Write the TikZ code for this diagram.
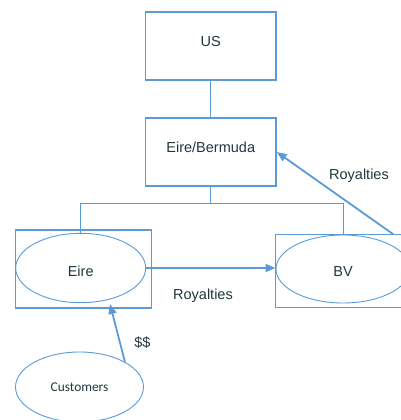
\documentclass[tikz,border=0pt]{standalone}
\usepackage{fontspec}
\setmainfont{Liberation Sans}
\newfontfamily\carlito{Carlito}
\usetikzlibrary{arrows.meta,shapes.geometric}
\definecolor{lineblue}{RGB}{91,155,213}
\definecolor{txt}{RGB}{32,56,60}
\begin{document}
\begin{tikzpicture}[x=1pt,y=-1pt,
  box/.style={draw=lineblue,line width=1.5pt,rectangle,inner sep=0pt},
  oval/.style={draw=lineblue,line width=0.9pt,ellipse,inner sep=0pt},
  lbl/.style={text=txt,font=\fontsize{14.5}{17}\selectfont,inner sep=0pt},
  conn/.style={draw=lineblue,line width=0.9pt},
  arr/.style={draw=lineblue,line width=1.8pt,-{Triangle[length=10pt,width=8pt]}}]
\useasboundingbox (0,0) rectangle (401,420);
\clip (0,0) rectangle (401,420);
% boxes
\node[box,minimum width=130.5pt,minimum height=68pt] (US) at (210.75,46) {};
\node[lbl] (usT) at (210.75,42) {US};
\node[box,minimum width=130.5pt,minimum height=68pt] (EB) at (210.75,152) {};
\node[lbl] (ebT) at (210.75,147) {Eire/Bermuda};
\node[box,minimum width=136pt,minimum height=78pt] (eireB) at (83.3,269.2) {};
\node[oval,minimum width=130pt,minimum height=69.4pt] (eireE) at (80.7,268) {};
\node[lbl] (eireT) at (80.7,271.5) {Eire};
\node[box,minimum width=135pt,minimum height=73pt] (bvB) at (342.8,270.8) {};
\node[oval,minimum width=134pt,minimum height=68pt] (bvE) at (343,269) {};
\node[lbl] (bvT) at (343,271.5) {BV};
\node[oval,minimum width=128pt,minimum height=70pt] (cust) at (79.5,387) {};
\node[text=txt,inner sep=0pt,font=\carlito\fontsize{13.4}{16}\selectfont] (custT) at (79.5,387) {Customers};
% labels
\node[lbl] (roy1) at (203,296) {Royalties};
\node[lbl] (roy2) at (359,176) {Royalties};
\node[lbl] (dol) at (142.5,343) {\$\$};
% connectors
\coordinate (j) at (210.75,203.5);
\draw[conn] (US.south) -- (EB.north);
\draw[conn] (EB.south) -- (j);
\draw[conn] (eireE.north) -- (eireE.north |- j) -- (bvE.north |- j) -- (bvB.north -| bvE.north);
\draw[arr] (eireE.east) -- (eireE.east -| bvE.west);
\coordinate (r1) at (393.3,234.3);
\draw[arr] (r1) -- (EB.east);
\coordinate (tipC) at (110,304);
\draw[arr] (cust.29) -- (tipC);
\end{tikzpicture}
\end{document}
